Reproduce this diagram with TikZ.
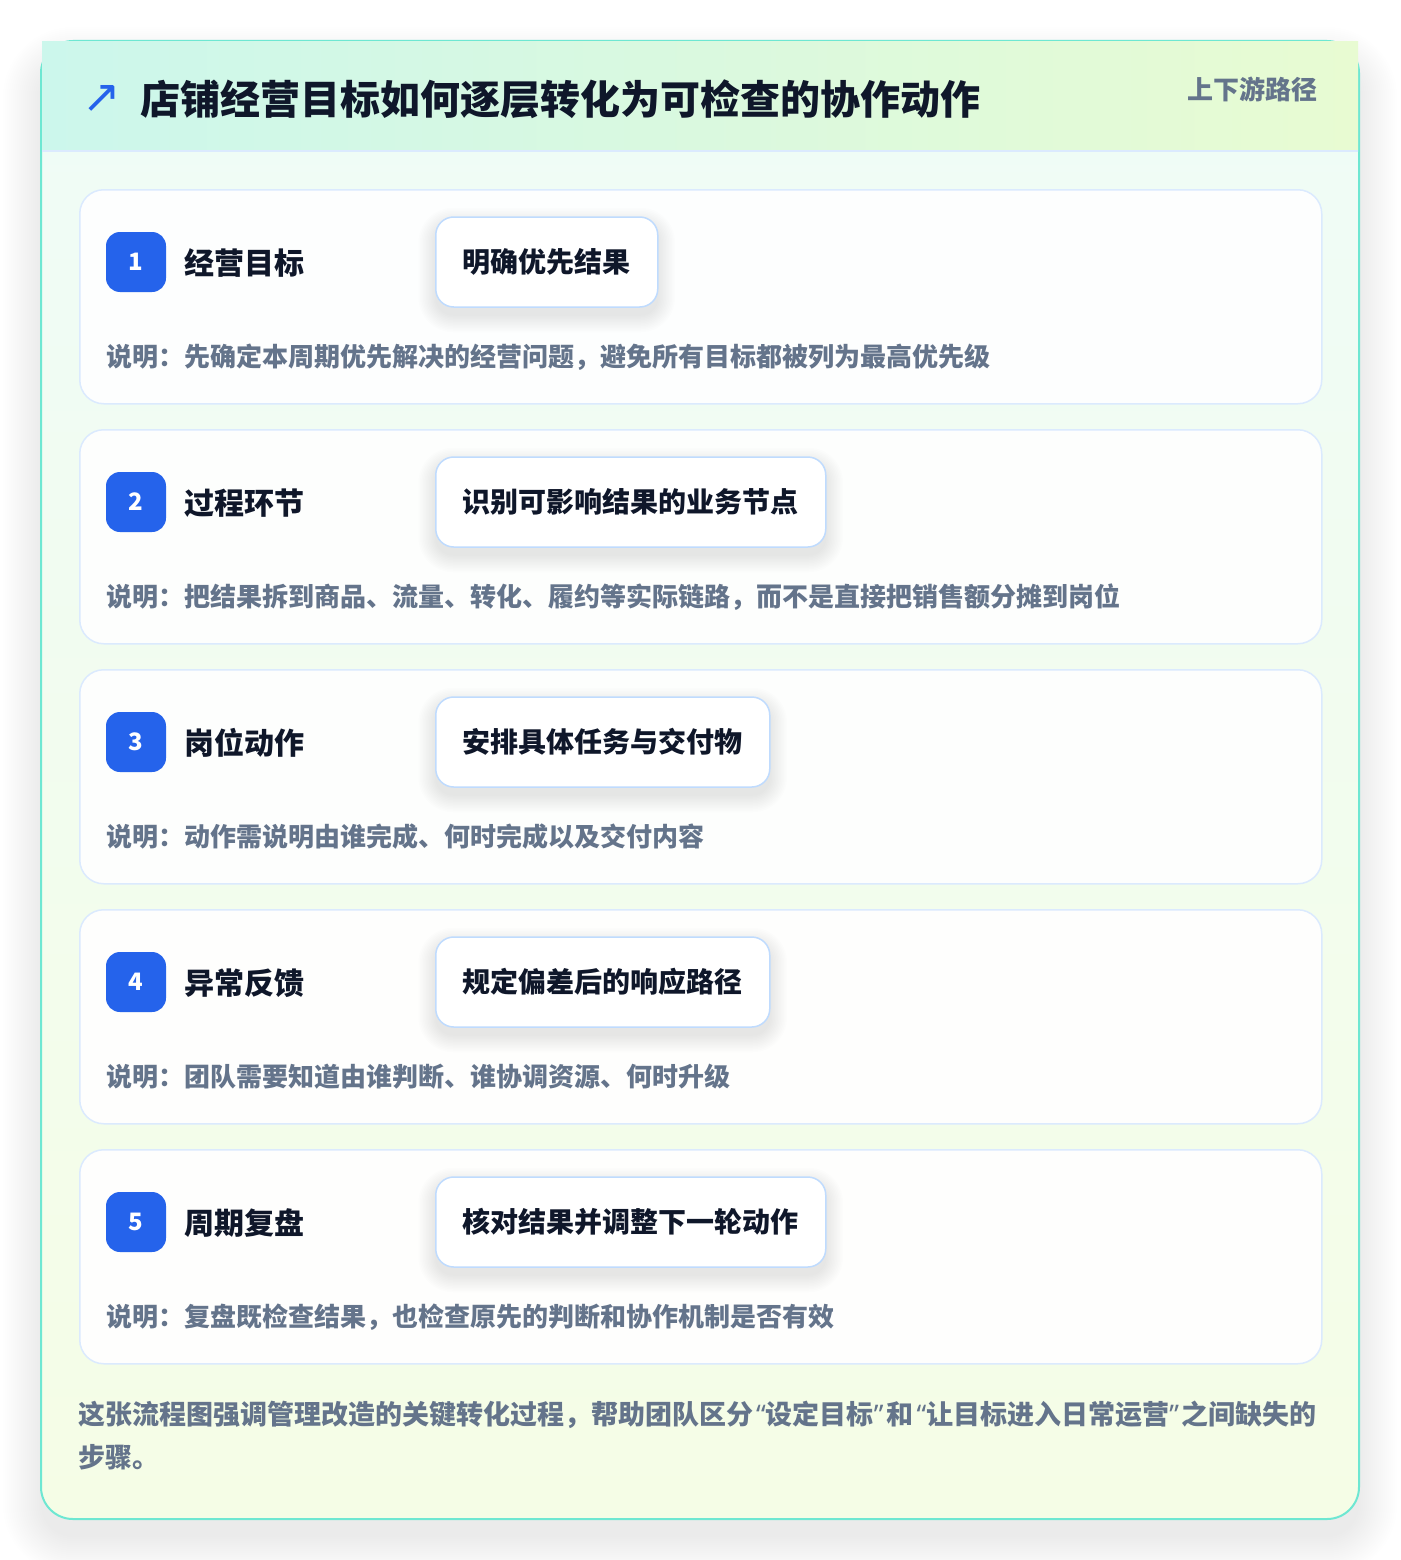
\documentclass[tikz,border=0pt]{standalone}
\usepackage{fontspec}
\setmainfont{Noto Sans CJK SC}
\newfontfamily\djv{DejaVu Sans}
\newfontfamily\latq{Noto Sans}
\newcommand\oqt{\kern3pt{\latq\bfseries “}}
\newcommand\cqt{{\latq\bfseries ”}\kern3pt}
\definecolor{cardborder}{HTML}{6EE7D2}
\definecolor{hdrL}{HTML}{CCF7EC}
\definecolor{hdrR}{HTML}{E8FBD2}
\definecolor{bodyT}{HTML}{EFFCF7}
\definecolor{bodyB}{HTML}{F5FDE6}
\definecolor{lineblue}{HTML}{DBEAFE}
\definecolor{pillblue}{HTML}{BFDBFE}
\definecolor{badgeblue}{HTML}{2563EB}
\definecolor{inkc}{HTML}{0F172A}
\definecolor{muted}{HTML}{64748B}
\pgfdeclarelayer{back}
\pgfdeclarelayer{shade}
\pgfsetlayers{back,shade,main}
\tikzset{
  stepcard/.style={draw=lineblue, line width=1.5pt, fill=white, fill opacity=0.92, draw opacity=1,
    rounded corners=24pt, minimum width=1242pt, minimum height=214pt, anchor=north west, inner sep=0pt},
  badgebox/.style={fill=badgeblue, rounded corners=14pt, minimum size=60pt, inner sep=0pt,
    text=white, font=\bfseries\fontsize{24}{24}\selectfont},
  steptitle/.style={anchor=west, inner sep=0pt, text=inkc, font=\bfseries\fontsize{30}{30}\selectfont},
  pillbox/.style={anchor=west, draw=pillblue, line width=1.5pt, fill=white, rounded corners=18pt,
    minimum height=90pt, inner xsep=27pt, inner ysep=0pt, text=inkc,
    font=\bfseries\fontsize{28}{28}\selectfont},
  desctext/.style={anchor=west, inner sep=0pt, text=muted, font=\bfseries\fontsize{26}{26}\selectfont},
  foottext/.style={anchor=west, inner sep=0pt, text=muted, font=\bfseries\fontsize{27}{27}\selectfont},
}
\begin{document}
\begin{tikzpicture}[x=1pt,y=-1pt]
\useasboundingbox (0,0) rectangle (1400,1560);
\begin{pgfonlayer}{back}
\fill[white] (0,0) rectangle (1400,1560);
% soft shadow of outer card
\foreach \k [evaluate=\k as \r using 32+2*\k, evaluate=\k as \e using 2*\k] in {0,...,19}{
  \fill[black, opacity=0.0042, rounded corners=\r pt] (41-\e,65-\e) rectangle (1359+\e,1537+\e);
}
% outer card
\path[rounded corners=32pt, top color=bodyT, bottom color=bodyB] (41,41) rectangle (1359,1519);
\draw[cardborder, line width=2pt, rounded corners=32pt] (41,41) rectangle (1359,1519);
% header band
\path[left color=hdrL, right color=hdrR] (42,42) rectangle (1358,151);
\draw[lineblue, line width=1.5pt] (42,151) -- (1358,151);
\end{pgfonlayer}
\node[inner sep=0pt, text=badgeblue, font=\djv\fontsize{46}{46}\selectfont] (icon) at (102,99) {↗};
\node[anchor=west, inner sep=0pt, text=inkc, font=\bfseries\fontsize{40}{40}\selectfont] (title) at (140,99) {店铺经营目标如何逐层转化为可检查的协作动作};
\node[anchor=east, inner sep=0pt, text=muted, font=\bfseries\fontsize{26}{26}\selectfont] (tag) at (1318,89) {上下游路径};
% steps
\foreach \n/\t/\p/\d [evaluate=\n as \top using 189+240*(\n-1)] in {
  1/经营目标/明确优先结果/说明：先确定本周期优先解决的经营问题，避免所有目标都被列为最高优先级,
  2/过程环节/识别可影响结果的业务节点/说明：把结果拆到商品、流量、转化、履约等实际链路，而不是直接把销售额分摊到岗位,
  3/岗位动作/安排具体任务与交付物/说明：动作需说明由谁完成、何时完成以及交付内容,
  4/异常反馈/规定偏差后的响应路径/说明：团队需要知道由谁判断、谁协调资源、何时升级,
  5/周期复盘/核对结果并调整下一轮动作/说明：复盘既检查结果，也检查原先的判断和协作机制是否有效}{
  \begin{pgfonlayer}{back}
    \node[stepcard] (card\n) at (79,\top) {};
  \end{pgfonlayer}
  \node[badgebox] (badge\n) at (136,\top+73) {\n};
  \node[steptitle] (title\n) at (184,\top+74) {\t};
  \node[pillbox] (pill\n) at (435,\top+73) {\p};
  \begin{pgfonlayer}{shade}
    \foreach \k [evaluate=\k as \r using 18+1.5*\k, evaluate=\k as \e using 1.5*\k] in {0,...,11}{
      \fill[black, opacity=0.006, rounded corners=\r pt]
        ([xshift=-\e pt, yshift=\e pt-8pt]pill\n.north west) rectangle ([xshift=\e pt, yshift=-\e pt-8pt]pill\n.south east);
    }
  \end{pgfonlayer}
  \node[desctext] (desc\n) at (106,\top+168) {\d};
}
% footer
\node[foottext] (foot1) at (78,1415) {这张流程图强调管理改造的关键转化过程，帮助团队区分\oqt 设定目标\cqt 和\oqt 让目标进入日常运营\cqt 之间缺失的};
\node[foottext] (foot2) at (78,1457) {步骤。};
\end{tikzpicture}
\end{document}
